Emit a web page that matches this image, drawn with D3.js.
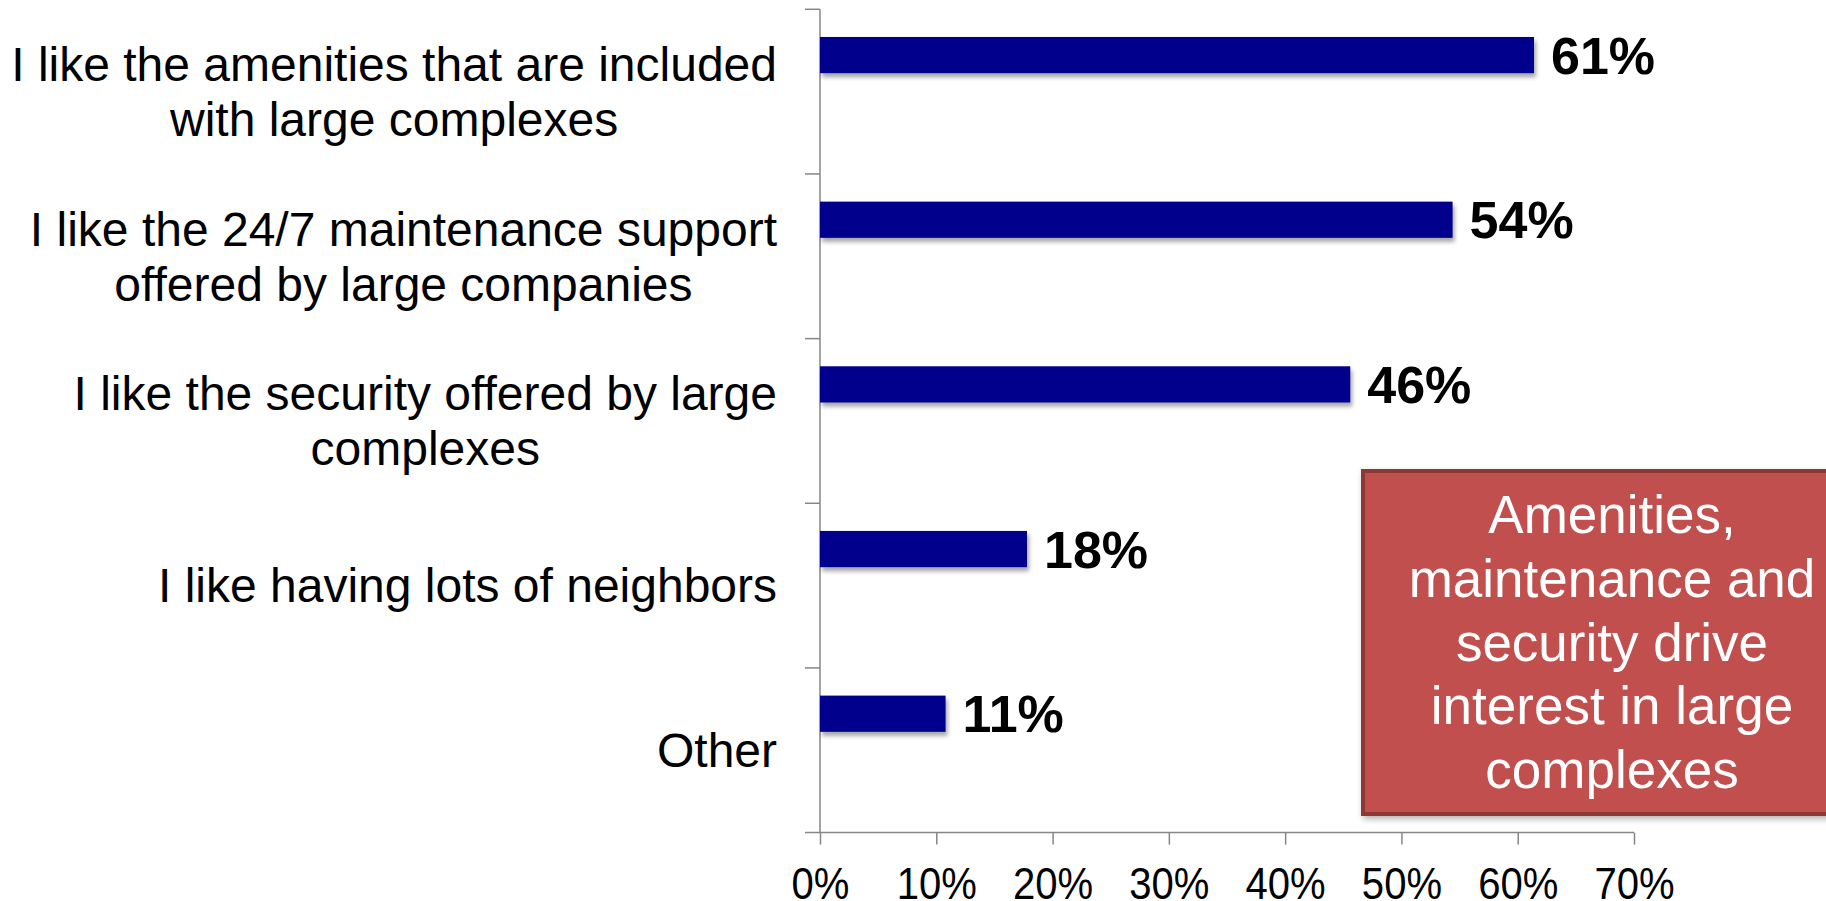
<html>
<head>
<style>
  body { margin: 0; background: #fff; }
  text { font-family: "Liberation Sans", Arial, sans-serif; }
</style>
<script src="https://d3js.org/d3.v7.min.js"></script>
</head>
<body>
<svg width="1826" height="901"></svg>
<script>
// data
let categories = [
  ["I like the amenities that are included", "with large complexes"],
  ["I like the 24/7 maintenance support", "offered by large companies"],
  ["I like the security offered by large", "complexes"],
  ["I like having lots of neighbors"],
  ["Other"]
]
let values = [0.614, 0.544, 0.456, 0.178, 0.108]
let xTicks = [0, 0.1, 0.2, 0.3, 0.4, 0.5, 0.6, 0.7]
let noteLines = ["Amenities,", "maintenance and", "security drive", "interest in large", "complexes"]

let svg = d3.select("svg")
let plotLeft = 820, plotRight = 1634, plotTop = 9.3, plotBottom = 832.6

let ids = categories.map(function(d, i) { return i })
let x = d3.scaleLinear().domain([0, 0.7]).range([plotLeft, plotRight])
let y = d3.scaleBand().domain(ids).range([plotTop, plotBottom]).padding(0)
let bw = y.bandwidth()

// drop shadows
let defs = svg.append("defs")
defs.append("filter").attr("id", "shadow").attr("x", "-5%").attr("y", "-30%").attr("width", "115%").attr("height", "180%")
  .append("feDropShadow").attr("dx", 2).attr("dy", 4).attr("stdDeviation", 2)
  .attr("flood-color", "#000").attr("flood-opacity", 0.35)
defs.append("filter").attr("id", "boxshadow").attr("x", "-5%").attr("y", "-5%").attr("width", "115%").attr("height", "115%")
  .append("feDropShadow").attr("dx", 2).attr("dy", 3).attr("stdDeviation", 3)
  .attr("flood-color", "#000").attr("flood-opacity", 0.3)

// x axis
let xAxis = svg.append("g")
  .attr("transform", "translate(0," + plotBottom + ")")
  .call(d3.axisBottom(x).tickValues(xTicks).tickSize(12).tickSizeOuter(0).tickFormat(d3.format(".0%")))
xAxis.select(".domain").attr("stroke", "#868686").attr("stroke-width", 1.5)
  .attr("d", "M" + (plotLeft - 15) + ",0H" + plotRight)
xAxis.selectAll(".tick line").attr("stroke", "#868686").attr("stroke-width", 1.5)
// the tick labels are a little taller than wide in the original
xAxis.selectAll(".tick text")
  .attr("y", 66)
  .attr("dy", 0)
  .attr("transform", "scale(0.89,1)")
  .attr("fill", "#000")
  .attr("font-size", "45px")
  .attr("font-family", "Liberation Sans, Arial, sans-serif")

// y axis, ticks between categories
let yAxis = svg.append("g")
yAxis.append("line")
  .attr("x1", plotLeft).attr("x2", plotLeft)
  .attr("y1", plotTop).attr("y2", plotBottom)
  .attr("stroke", "#868686").attr("stroke-width", 1.5)
yAxis.selectAll(".ytick")
  .data(ids)
  .enter().append("line")
  .attr("class", "ytick")
  .attr("x1", plotLeft - 15).attr("x2", plotLeft)
  .attr("y1", function(d) { return y(d) })
  .attr("y2", function(d) { return y(d) })
  .attr("stroke", "#868686").attr("stroke-width", 1.5)

// bars
svg.selectAll(".bar")
  .data(values)
  .enter().append("rect")
  .attr("class", "bar")
  .attr("x", x(0))
  .attr("y", function(d, i) { return y(i) + bw * 0.168 })
  .attr("width", function(d) { return x(d) - x(0) })
  .attr("height", bw * 0.22)
  .attr("fill", "#00008C")
  .attr("filter", "url(#shadow)")

// value labels
svg.selectAll(".val")
  .data(values)
  .enter().append("text")
  .attr("class", "val")
  .attr("x", function(d) { return x(d) + 17 })
  .attr("y", function(d, i) { return y(i) + bw * 0.168 + bw * 0.11 })
  .attr("dy", "0.36em")
  .attr("font-size", "52px")
  .attr("font-weight", "bold")
  .attr("fill", "#000")
  .text(function(d) { return d3.format(".0%")(d) })

// category labels: block right aligned, lines centred inside the block
let lineH = 55
categories.forEach(function(lines, i) {
  let g = svg.append("g")
  let cy = y(i) + bw / 2
  let texts = lines.map(function(t, j) {
    return g.append("text")
      .attr("y", cy + (j - (lines.length - 1) / 2) * lineH)
      .attr("dy", "0.35em")
      .attr("font-size", "48px")
      .attr("fill", "#000")
      .attr("text-anchor", "middle")
      .text(t)
  })
  let maxW = d3.max(texts, function(t) { return t.node().getComputedTextLength() })
  texts.forEach(function(t) { t.attr("x", 777 - maxW / 2) })
})

// call-out box
let box = svg.append("g")
box.append("rect")
  .attr("x", 1363).attr("y", 471)
  .attr("width", 520).attr("height", 343)
  .attr("fill", "#C0504D")
  .attr("stroke", "#8C3836")
  .attr("stroke-width", 4)
  .attr("filter", "url(#boxshadow)")
box.selectAll("text")
  .data(noteLines)
  .enter().append("text")
  .attr("x", 1612)
  .attr("y", function(d, i) { return 533 + i * 63.75 })
  .attr("text-anchor", "middle")
  .attr("font-size", "53px")
  .attr("fill", "#fff")
  .text(function(d) { return d })
</script>
</body>
</html>
